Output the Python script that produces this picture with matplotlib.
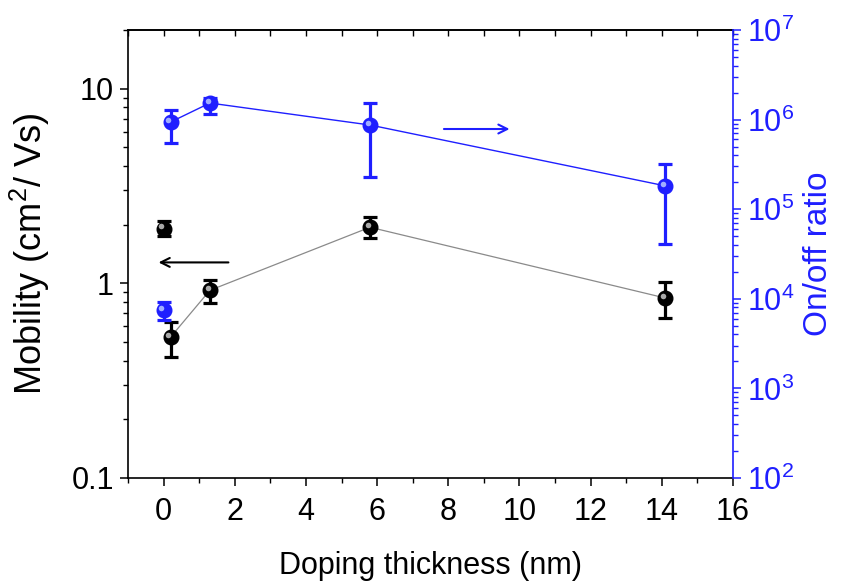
import numpy as np
import matplotlib.pyplot as plt
from matplotlib.ticker import MultipleLocator, LogLocator, NullFormatter, FuncFormatter
from matplotlib.transforms import offset_copy

plt.rcParams['font.family'] = ['Liberation Sans', 'DejaVu Sans']
plt.rcParams['mathtext.fontset'] = 'custom'
plt.rcParams['mathtext.rm'] = 'Liberation Sans'
plt.rcParams['mathtext.it'] = 'Liberation Sans:italic'
plt.rcParams['mathtext.default'] = 'regular'

BLUE = '#1f1fff'

# mobility (left axis)
mob_x = [0, 0.2, 1.3, 5.8, 14.1]
mob = [1.91, 0.53, 0.92, 1.94, 0.84]
mob_lo = [1.74, 0.42, 0.79, 1.70, 0.66]
mob_hi = [2.08, 0.63, 1.04, 2.18, 1.01]

# on/off ratio (right axis)
ratio_x = [0, 0.2, 1.3, 5.8, 14.1]
ratio = [7.5e3, 9.4e5, 1.53e6, 8.7e5, 1.82e5]
ratio_lo = [5.8e3, 5.5e5, 1.16e6, 2.29e5, 4.1e4]
ratio_hi = [9.2e3, 1.28e6, 1.74e6, 1.53e6, 3.19e5]


def sphere_points(ax, x, y, lo, hi, color, shine, line_color, line_w):
    x = np.array(x)
    y = np.array(y)
    yerr = [y - np.array(lo), np.array(hi) - y]
    # first sample (undoped) stands alone, the others are joined
    ax.plot(x[1:], y[1:], '-', color=line_color, lw=line_w, zorder=2)
    ax.errorbar(x, y, yerr=yerr, fmt='o', color=color, ms=10.5, mec=color,
                elinewidth=2.3, capsize=5, capthick=2.3, zorder=3)
    glint = offset_copy(ax.transData, fig=ax.figure, x=-1.6, y=1.6, units='points')
    ax.plot(x, y, 'o', ms=4, color=shine, mec='none', alpha=0.85,
            transform=glint, zorder=4)


fig = plt.figure(figsize=(8.46, 5.88), dpi=100)
ax = fig.add_axes([0.1513, 0.1871, 0.7151, 0.7619])
ax2 = ax.twinx()

sphere_points(ax, mob_x, mob, mob_lo, mob_hi, 'black', '#c8c8c8', '#8a8a8a', 0.9)
sphere_points(ax2, ratio_x, ratio, ratio_lo, ratio_hi, BLUE, '#b8c8ff', BLUE, 1.0)

ax.set_xlim(-1, 16)
ax.set_yscale('log')
ax.set_ylim(0.1, 20)
ax2.set_yscale('log')
ax2.set_ylim(1e2, 1e7)

ax.xaxis.set_major_locator(MultipleLocator(2))
ax.xaxis.set_minor_locator(MultipleLocator(1))
ax.yaxis.set_major_locator(LogLocator(base=10))
ax.yaxis.set_minor_locator(LogLocator(base=10, subs=np.arange(2, 10)))
ax.yaxis.set_major_formatter(FuncFormatter(lambda v, _: f'{v:g}'))
ax.yaxis.set_minor_formatter(NullFormatter())
ax2.yaxis.set_major_locator(LogLocator(base=10))
ax2.yaxis.set_minor_locator(LogLocator(base=10, subs=np.arange(2, 10), numticks=20))
ax2.yaxis.set_minor_formatter(NullFormatter())

ax.tick_params(which='major', direction='out', length=6, width=1.1, labelsize=22)
ax.tick_params(which='minor', direction='out', length=3.5, width=1.0)
ax.tick_params(axis='x', pad=8)
ax.tick_params(axis='y', pad=4)
ax2.tick_params(which='major', direction='out', length=6, width=1.1, labelsize=22,
                colors=BLUE, pad=4)
ax2.tick_params(which='minor', direction='out', length=3.5, width=1.0, colors=BLUE)

for s in ['left', 'bottom', 'top']:
    ax.spines[s].set_linewidth(1.2)
ax.spines['right'].set_visible(False)
for s in ['left', 'bottom', 'top']:
    ax2.spines[s].set_visible(False)
ax2.spines['right'].set_color(BLUE)
ax2.spines['right'].set_linewidth(1.2)

top = ax.secondary_xaxis('top')
top.xaxis.set_major_locator(MultipleLocator(1))
top.tick_params(direction='in', length=4, width=1.0, labeltop=False)
top.spines['top'].set_linewidth(1.2)

ax.set_xlabel('Doping thickness (nm)', fontsize=22, labelpad=17)
ax.set_ylabel('Mobility (cm$^2$/ Vs)', fontsize=26, labelpad=14)
ax2.set_ylabel('On/off ratio', fontsize=24, color=BLUE, labelpad=6)

# direction arrows pointing to each axis
ax.annotate('', xy=(-0.22, 1.28), xytext=(1.9, 1.28),
            arrowprops=dict(arrowstyle='->', lw=1.5, color='black', mutation_scale=16))
ax2.annotate('', xy=(9.8, 7.85e5), xytext=(7.8, 7.85e5),
             arrowprops=dict(arrowstyle='->', lw=1.5, color=BLUE, mutation_scale=16))

fig.savefig('out.png', dpi=100)
